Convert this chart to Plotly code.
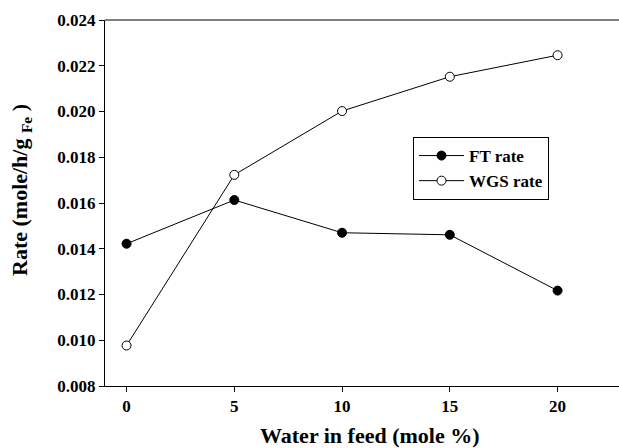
import plotly.graph_objects as go

water = [0, 5, 10, 15, 20]
ft_rate = [0.01422, 0.01613, 0.01470, 0.01461, 0.01217]
wgs_rate = [0.00977, 0.01723, 0.02002, 0.02152, 0.02246]
x_ticks = [0, 5, 10, 15, 20]
y_ticks = [0.008, 0.010, 0.012, 0.014, 0.016, 0.018, 0.020, 0.022, 0.024]

FONT = "Liberation Serif"

fig = go.Figure()
fig.add_trace(go.Scatter(
    x=water, y=ft_rate, name="<b>FT rate</b>", mode="lines+markers",
    line=dict(color="black", width=1),
    marker=dict(symbol="circle", size=9, color="black", line=dict(color="black", width=1)),
))
fig.add_trace(go.Scatter(
    x=water, y=wgs_rate, name="<b>WGS rate</b>", mode="lines+markers",
    line=dict(color="black", width=1),
    marker=dict(symbol="circle", size=9, color="white", line=dict(color="black", width=1)),
))

fig.update_layout(
    width=619, height=448,
    margin=dict(l=105, r=0, t=20, b=62),
    paper_bgcolor="white", plot_bgcolor="white",
    font=dict(family=FONT, color="black"),
    showlegend=True,
    legend=dict(
        x=(413 - 105) / 514, y=(386 - 137) / 366, xanchor="left", yanchor="top",
        bgcolor="white", bordercolor="black", borderwidth=1,
        font=dict(family=FONT, size=17, color="black"),
        itemwidth=45, tracegroupgap=0,
    ),
    xaxis=dict(
        range=[-1.0, 22.85], tickvals=x_ticks, ticktext=[f"<b>{v}</b>" for v in x_ticks],
        showgrid=False, zeroline=False, showline=True, linecolor="black", linewidth=1,
        ticks="outside", ticklen=5, tickcolor="black",
        tickfont=dict(family=FONT, size=17, color="black"),
        mirror=False,
    ),
    yaxis=dict(
        range=[0.008, 0.024], tickvals=y_ticks, ticktext=[f"<b>{v:.3f}</b>" for v in y_ticks],
        showgrid=False, zeroline=False, showline=True, linecolor="black", linewidth=1,
        ticks="outside", ticklen=5, tickcolor="black",
        tickfont=dict(family=FONT, size=17, color="black"),
    ),
    shapes=[dict(type="line", xref="paper", yref="paper", x0=0, x1=1, y0=1, y1=1,
                 line=dict(color="black", width=1))],
    annotations=[
        dict(text="<b>Water in feed (mole %)</b>", xref="paper", yref="paper",
             x=(370 - 105) / 514, y=-(435 - 386) / 366, xanchor="center", yanchor="middle",
             showarrow=False, font=dict(family=FONT, size=22, color="black")),
        dict(text="<b>Rate (mole/h/g <sub>Fe</sub> )</b>", xref="paper", yref="paper",
             x=-(105 - 21) / 514, y=(386 - 190) / 366, xanchor="center", yanchor="middle",
             textangle=-90, showarrow=False, font=dict(family=FONT, size=22, color="black")),
    ],
)

fig.write_html("out.html")
